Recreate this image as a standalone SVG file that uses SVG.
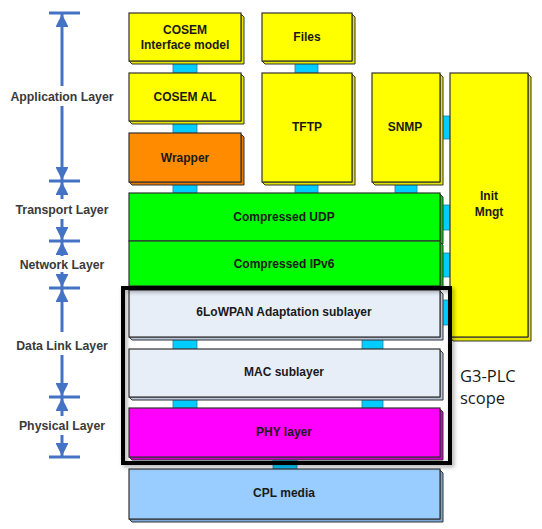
<svg xmlns="http://www.w3.org/2000/svg" width="542" height="529" viewBox="0 0 542 529">
<defs>
<style>
.lbl{font-family:"Liberation Sans",Arial,sans-serif;font-weight:bold;font-size:12px;fill:#1a1a1a;text-anchor:middle}
.ax{font-family:"Liberation Sans",Arial,sans-serif;font-weight:bold;font-size:12.3px;fill:#3a3a3a;text-anchor:middle}
.face{stroke:#333;stroke-width:1.2}
.side{stroke:#333;stroke-width:1}
.con{fill:#00ccff;stroke:#2a7fa0;stroke-width:0.8}
.axl{stroke:#4472c4;stroke-width:3;fill:none}
.tick{stroke:#4472c4;stroke-width:3}
.yel{fill:#ffff00}.yel2{fill:#e6e600}
.org{fill:#ff8c00}.org2{fill:#e67a00}
.grn{fill:#00ff00}.grn2{fill:#00cc00}
.lgt{fill:#e8eef8}.lgt2{fill:#b8c6dc}
.mag{fill:#ff00ff}.mag2{fill:#cc00cc}
.blu{fill:#99ccff}.blu2{fill:#7aa8d8}
</style>
<marker id="ah" viewBox="0 0 10 10" refX="10" refY="5" markerWidth="4.3" markerHeight="4.3" orient="auto" markerUnits="strokeWidth">
<path d="M0,0 L10,5 L0,10 z" fill="#4472c4"/>
</marker>
<filter id="sh" x="-10%" y="-10%" width="120%" height="120%">
<feDropShadow dx="2" dy="2" stdDeviation="2" flood-color="#000" flood-opacity="0.35"/>
</filter>
</defs>

<!-- axis -->
<g id="axis">
<line class="tick" x1="49" y1="13" x2="80" y2="13"/>
<line class="tick" x1="49" y1="181" x2="80" y2="181"/>
<line class="tick" x1="49" y1="241" x2="80" y2="241"/>
<line class="tick" x1="49" y1="288" x2="80" y2="288"/>
<line class="tick" x1="49" y1="397" x2="80" y2="397"/>
<line class="tick" x1="49" y1="457" x2="80" y2="457"/>
<line class="axl" x1="62" y1="86" x2="62" y2="14" marker-end="url(#ah)"/>
<line class="axl" x1="62" y1="106" x2="62" y2="180" marker-end="url(#ah)"/>
<line class="axl" x1="62" y1="199" x2="62" y2="182" marker-end="url(#ah)"/>
<line class="axl" x1="62" y1="219" x2="62" y2="240" marker-end="url(#ah)"/>
<line class="axl" x1="62" y1="256" x2="62" y2="242" marker-end="url(#ah)"/>
<line class="axl" x1="62" y1="272" x2="62" y2="287" marker-end="url(#ah)"/>
<line class="axl" x1="62" y1="332" x2="62" y2="289" marker-end="url(#ah)"/>
<line class="axl" x1="62" y1="355" x2="62" y2="396" marker-end="url(#ah)"/>
<line class="axl" x1="62" y1="416" x2="62" y2="398" marker-end="url(#ah)"/>
<line class="axl" x1="62" y1="435" x2="62" y2="456" marker-end="url(#ah)"/>
<text class="ax" x="62" y="101">Application Layer</text>
<text class="ax" x="62" y="214">Transport Layer</text>
<text class="ax" x="62" y="269">Network Layer</text>
<text class="ax" x="62" y="350">Data Link Layer</text>
<text class="ax" x="62" y="430">Physical Layer</text>
</g>

<!-- connectors -->
<g id="connectors">
<rect class="con" x="173" y="61" width="24" height="12"/>
<rect class="con" x="173" y="121" width="24" height="12"/>
<rect class="con" x="173" y="182" width="24" height="11"/>
<rect class="con" x="295" y="61" width="23" height="12"/>
<rect class="con" x="295" y="182" width="23" height="11"/>
<rect class="con" x="395" y="182" width="22" height="11"/>
<rect class="con" x="440" y="116" width="10" height="23"/>
<rect class="con" x="440" y="205" width="10" height="25"/>
<rect class="con" x="440" y="253" width="10" height="24"/>
<rect class="con" x="440" y="300" width="10" height="25"/>
<rect class="con" x="173" y="337" width="24" height="12"/>
<rect class="con" x="362" y="337" width="21" height="12"/>
<rect class="con" x="173" y="397" width="24" height="11"/>
<rect class="con" x="362" y="397" width="21" height="11"/>
<rect class="con" x="273" y="457" width="24" height="12"/>
</g>

<g id="cosem-im">
<path class="yel2 side" d="M241,14 L244,17 L244,64 L132,64 L129,61 L241,61 Z"/>
<rect class="yel face" x="129" y="13" width="112" height="48"/>
<text class="lbl" x="185" y="34">COSEM</text>
<text class="lbl" x="185" y="49">Interface model</text>
</g>
<g id="cosem-al">
<path class="yel2 side" d="M241,74 L244,77 L244,124 L132,124 L129,121 L241,121 Z"/>
<rect class="yel face" x="129" y="73" width="112" height="48"/>
<text class="lbl" x="185" y="101">COSEM AL</text>
</g>
<g id="wrapper">
<path class="org2 side" d="M241,134 L244,137 L244,185 L132,185 L129,182 L241,182 Z"/>
<rect class="org face" x="129" y="133" width="112" height="49"/>
<text class="lbl" x="185" y="162">Wrapper</text>
</g>
<g id="files">
<path class="yel2 side" d="M352,14 L355,17 L355,64 L265,64 L262,61 L352,61 Z"/>
<rect class="yel face" x="262" y="13" width="90" height="48"/>
<text class="lbl" x="307" y="41">Files</text>
</g>
<g id="tftp">
<path class="yel2 side" d="M352,74 L355,77 L355,185 L265,185 L262,182 L352,182 Z"/>
<rect class="yel face" x="262" y="73" width="90" height="109"/>
<text class="lbl" x="307" y="131">TFTP</text>
</g>
<g id="snmp">
<path class="yel2 side" d="M440,74 L443,77 L443,185 L375,185 L372,182 L440,182 Z"/>
<rect class="yel face" x="372" y="73" width="68" height="109"/>
<text class="lbl" x="405" y="131">SNMP</text>
</g>
<g id="init-mngt">
<path class="yel2 side" d="M528,74 L531,77 L531,341 L453,341 L450,337 L528,337 Z"/>
<rect class="yel face" x="450" y="73" width="78" height="264"/>
<text class="lbl" x="489" y="200">Init</text>
<text class="lbl" x="489" y="216">Mngt</text>
</g>
<g id="udp">
<path class="grn2 side" d="M440,194 L443,197 L443,244 L132,244 L129,241 L440,241 Z"/>
<rect class="grn face" x="129" y="193" width="311" height="48"/>
<text class="lbl" x="284" y="221">Compressed UDP</text>
</g>
<g id="ipv6">
<path class="grn2 side" d="M440,242 L443,245 L443,289 L132,289 L129,286 L440,286 Z"/>
<rect class="grn face" x="129" y="241" width="311" height="45"/>
<text class="lbl" x="284" y="268">Compressed IPv6</text>
</g>
<g id="sixlowpan">
<path class="lgt2 side" d="M440,291 L443,294 L443,340 L132,340 L129,337 L440,337 Z"/>
<rect class="lgt face" x="129" y="290" width="311" height="47"/>
<text class="lbl" x="284" y="316">6LoWPAN Adaptation sublayer</text>
</g>
<g id="mac">
<path class="lgt2 side" d="M440,350 L443,353 L443,400 L132,400 L129,397 L440,397 Z"/>
<rect class="lgt face" x="129" y="349" width="311" height="48"/>
<text class="lbl" x="284" y="376">MAC sublayer</text>
</g>
<g id="phy">
<path class="mag2 side" d="M440,409 L443,412 L443,460 L132,460 L129,457 L440,457 Z"/>
<rect class="mag face" x="129" y="408" width="311" height="49"/>
<text class="lbl" x="284" y="436">PHY layer</text>
</g>
<g id="cpl">
<path class="blu2 side" d="M440,470 L443,473 L443,522 L132,522 L129,519 L440,519 Z"/>
<rect class="blu face" x="129" y="469" width="311" height="50"/>
<text class="lbl" x="284" y="497">CPL media</text>
</g>

<g id="scope">
<rect x="123" y="288" width="327" height="175" fill="none" stroke="#000" stroke-width="4" filter="url(#sh)"/>
<text x="460" y="382" font-family="'Open Sans',sans-serif" font-size="16.5" fill="#1a1a1a">G3-PLC</text>
<text x="460" y="404" font-family="'Open Sans',sans-serif" font-size="16.5" fill="#1a1a1a">scope</text>
</g>
</svg>
